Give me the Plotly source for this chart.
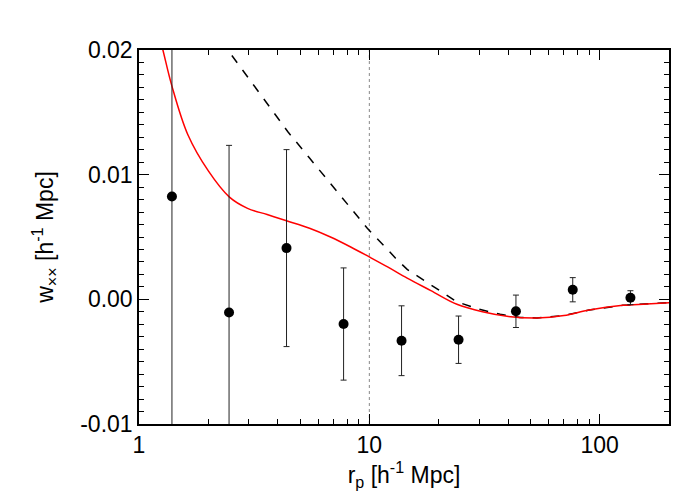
import plotly.graph_objects as go

# measured points
rp = [1.39, 2.46, 4.37, 7.73, 13.8, 24.4, 43.3, 76.4, 136.0]
w = [0.00825, -0.00105, 0.00411, -0.00198, -0.00332, -0.00324, -0.00096, 0.00077, 0.00013]
w_err = [0.025, 0.0134, 0.0079, 0.0045, 0.0028, 0.0019, 0.0013, 0.00097, 0.00056]

# model curves
r_red = [1.2, 1.27, 1.39, 1.63, 2.0, 2.47, 2.96, 3.6, 4.37, 5.5, 6.78, 8.3, 10.0, 12.0,
         14.6, 18.5, 24.0, 31.0, 39.6, 53.4, 70.0, 90.0, 126.0, 160.0, 200.0]
w_red = [0.0218, 0.0200, 0.0171, 0.0132, 0.0103, 0.0082, 0.0073, 0.0068, 0.0063, 0.0057,
         0.0050, 0.0042, 0.0034, 0.0026, 0.0017, 0.0007, -0.0004, -0.0010, -0.00136,
         -0.0015, -0.0013, -0.00085, -0.00048, -0.00038, -0.00027]

r_dash = [2.2, 2.43, 3.0, 3.6, 4.42, 5.5, 6.8, 8.2, 9.8, 12.0, 13.0, 14.6, 18.5, 24.0,
          30.0, 37.0, 45.0, 53.4, 70.0, 90.0, 126.0, 160.0, 200.0]
w_dash = [0.0222, 0.0200, 0.0177, 0.0157, 0.01346, 0.01133, 0.00926, 0.00744, 0.0057,
          0.0040, 0.0033, 0.0024, 0.00117, -0.0002, -0.0008, -0.0012, -0.00145, -0.0015,
          -0.0013, -0.00085, -0.00048, -0.00038, -0.00027]

x_ticks = [1, 10, 100]
x_ticktext = ['1', '10', '100']
y_ticks = [-0.01, 0.0, 0.01, 0.02]
y_ticktext = ['-0.01', '0.00', '0.01', '0.02']
vline_x = 10

FONT = 'Liberation Sans, Arial, Helvetica, sans-serif'

fig = go.Figure()

fig.add_trace(go.Scatter(x=[vline_x, vline_x], y=[-0.01, 0.02], mode='lines',
                         line=dict(color='#888888', width=1, dash='dot'), showlegend=False))

fig.add_trace(go.Scatter(x=r_dash, y=w_dash, mode='lines',
                         line=dict(color='black', width=1.5, dash='dash'), showlegend=False))

fig.add_trace(go.Scatter(x=r_red, y=w_red, mode='lines',
                         line=dict(color='red', width=1.5, shape='spline'), showlegend=False))

fig.add_trace(go.Scatter(x=rp, y=w, mode='markers',
                         marker=dict(color='black', size=10),
                         error_y=dict(type='data', array=w_err, color='#222222',
                                      thickness=1, width=3),
                         showlegend=False))

axis_common = dict(showline=True, linecolor='black', linewidth=1.5, mirror='ticks',
                   ticks='inside', tickcolor='black', tickwidth=1, ticklen=10,
                   showgrid=False, zeroline=False, automargin=False,
                   tickfont=dict(family=FONT, size=23, color='black'))

fig.update_xaxes(type='log', range=[0, 2.301], tickvals=x_ticks, ticktext=x_ticktext,
                 minor=dict(ticks='inside', ticklen=5, tickcolor='black', dtick='D1',
                            showgrid=False),
                 title=dict(text='r<sub>p</sub> [h<sup>-1</sup> Mpc]',
                            font=dict(family=FONT, size=23, color='black'), standoff=6),
                 **axis_common)

fig.update_yaxes(range=[-0.01, 0.02], tickvals=y_ticks, ticktext=y_ticktext,
                 minor=dict(ticks='inside', ticklen=5, tickcolor='black', dtick=0.001,
                            showgrid=False),
                 title=dict(text='w<sub>\u00d7\u00d7</sub> [h<sup>-1</sup> Mpc]',
                            font=dict(family=FONT, size=23, color='black'), standoff=20),
                 **axis_common)

fig.update_layout(width=700, height=500,
                  margin=dict(l=131, r=39, t=42, b=84, autoexpand=False),
                  paper_bgcolor='white', plot_bgcolor='white')

fig.write_html('out.html')
